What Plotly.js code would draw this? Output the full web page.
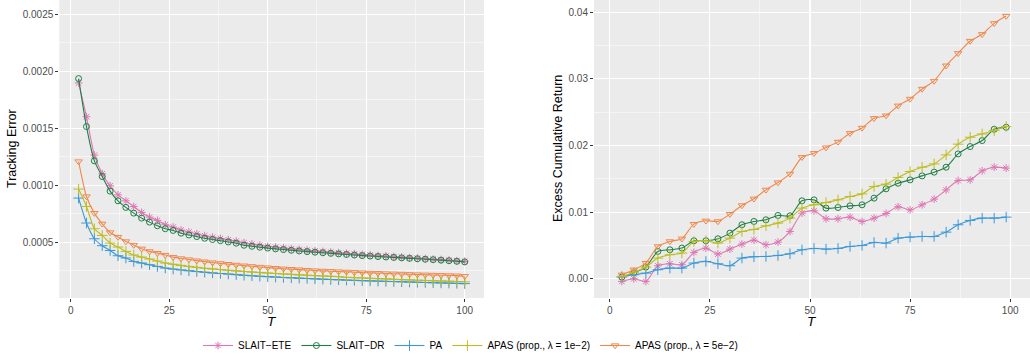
<!DOCTYPE html>
<html>
<head>
<meta charset="utf-8">
<script src="https://cdn.plot.ly/plotly-3.0.1.min.js"></script>
<style>
  html, body { margin: 0; padding: 0; background: #ffffff; }
  #chart { width: 1030px; height: 360px; }
</style>
</head>
<body>
<div id="chart"></div>
<script>
// ---------- Data ----------
const seriesNames = [
  "SLAIT\u2212ETE",
  "SLAIT\u2212DR",
  "PA",
  "APAS (prop., \u03bb = 1e\u22122)",
  "APAS (prop., \u03bb = 5e\u22122)"
];

// Left panel: Tracking Error vs T
const tLeft = [2,4,6,8,10,12,14,16,18,20,22,24,26,28,30,32,34,36,38,40,42,44,46,48,50,
               52,54,56,58,60,62,64,66,68,70,72,74,76,78,80,82,84,86,88,90,92,94,96,98,100];

const teSlaitEte = [0.001897,0.0016,0.001263,0.0011,0.000994,0.000915,0.000862,0.000812,0.00076,0.000719,
                    0.00069,0.000652,0.000632,0.000606,0.000588,0.000572,0.000556,0.000543,0.000531,0.00052,
                    0.000508,0.000494,0.000483,0.000473,0.000463,0.000455,0.000448,0.000441,0.000435,0.000429,
                    0.000423,0.000417,0.000412,0.000406,0.000401,0.000396,0.000391,0.000386,0.000381,0.000377,
                    0.000372,0.000368,0.000363,0.000359,0.000355,0.00035,0.000346,0.000341,0.000336,0.000331];

const teSlaitDr = [0.001935,0.001514,0.001213,0.001075,0.000947,0.000862,0.000804,0.000754,0.00071,0.000675,
                   0.000643,0.000617,0.000602,0.000578,0.000562,0.000548,0.000533,0.000522,0.000512,0.000501,
                   0.00049,0.000472,0.000463,0.000455,0.000447,0.00044,0.000434,0.000428,0.000422,0.000416,
                   0.000411,0.000406,0.000401,0.000396,0.000391,0.000386,0.000381,0.000377,0.000373,0.000369,
                   0.000365,0.000361,0.000357,0.000353,0.000349,0.000345,0.000341,0.000336,0.000331,0.000326];

const tePa = [0.000886,0.000667,0.000529,0.000468,0.000426,0.00038,0.00036,0.00033,0.000316,0.000301,
              0.000286,0.000272,0.000263,0.000255,0.000248,0.000241,0.000235,0.000229,0.000224,0.000219,
              0.000214,0.000208,0.000204,0.0002,0.000196,0.000193,0.000189,0.000186,0.000183,0.00018,
              0.000177,0.000174,0.000171,0.000169,0.000166,0.000164,0.000161,0.000159,0.000157,0.000155,
              0.000153,0.000151,0.000149,0.000147,0.000145,0.000143,0.000141,0.000139,0.000137,0.000135];

const teApas1 = [0.000965,0.000812,0.000617,0.000558,0.000491,0.000456,0.000418,0.000386,0.000368,0.000351,
                 0.000333,0.000316,0.000305,0.000295,0.000286,0.000278,0.00027,0.000264,0.000258,0.000252,
                 0.000247,0.000242,0.000237,0.000232,0.000228,0.000224,0.00022,0.000216,0.000212,0.000209,
                 0.000205,0.000202,0.000199,0.000196,0.000191,0.000188,0.000185,0.000182,0.000179,0.000176,
                 0.000173,0.00017,0.000168,0.000165,0.000163,0.00016,0.000158,0.000156,0.000153,0.000151];

const teApas5 = [0.001207,0.0009,0.000754,0.00066,0.000584,0.000544,0.000505,0.000474,0.000441,0.000418,
                 0.000403,0.000386,0.000368,0.000356,0.000347,0.000337,0.000328,0.00032,0.000313,0.000306,
                 0.000299,0.000293,0.000287,0.000281,0.000276,0.000271,0.000266,0.000262,0.000258,0.000254,
                 0.00025,0.000247,0.000244,0.000241,0.000238,0.000235,0.000232,0.000229,0.000227,0.000224,
                 0.000222,0.00022,0.000217,0.000215,0.000213,0.000211,0.000209,0.000207,0.000205,0.0002];

// Right panel: Excess Cumulative Return vs T
const tRight = [3,6,9,12,15,18,21,24,27,30,33,36,39,42,45,48,51,54,57,60,63,66,69,72,75,78,81,84,87,90,93,96,99];

const crSlaitEte = [-0.0004,0.0,-0.0004,0.00195,0.00225,0.0021,0.00395,0.0046,0.0037,0.00445,
                    0.0052,0.0058,0.0051,0.0055,0.0071,0.00985,0.0102,0.009,0.009,0.00925,
                    0.0086,0.0091,0.0098,0.0108,0.01034,0.0111,0.01195,0.01334,0.01474,0.01484,
                    0.01619,0.01674,0.0166];

const crSlaitDr = [0.00025,0.0009,0.00175,0.0041,0.00435,0.0046,0.0057,0.0057,0.006,0.00685,
                   0.0081,0.0086,0.00885,0.0095,0.00945,0.0117,0.01184,0.0106,0.0107,0.01094,
                   0.0111,0.0121,0.0135,0.01434,0.01484,0.01544,0.016,0.01674,0.01874,0.01984,
                   0.02074,0.02244,0.02274];

const crPa = [0.00025,0.0006,0.00085,0.00135,0.0016,0.0016,0.00235,0.0026,0.00225,0.00195,
              0.0031,0.0033,0.00335,0.0035,0.00375,0.00435,0.00455,0.00445,0.00455,0.00485,
              0.005,0.00545,0.00535,0.0061,0.00625,0.00635,0.00635,0.007,0.0081,0.00875,
              0.0091,0.0091,0.00925];

const crApas1 = [0.00035,0.00095,0.00175,0.0031,0.0036,0.00385,0.0056,0.0057,0.00535,0.0061,
                 0.0071,0.0074,0.00795,0.00835,0.0091,0.0106,0.0111,0.01144,0.01184,0.01234,
                 0.01274,0.01384,0.0142,0.0152,0.0161,0.01674,0.01724,0.01859,0.0202,0.02124,
                 0.02174,0.02224,0.02284];

const crApas5 = [0.0006,0.00135,0.00235,0.00485,0.0056,0.006,0.0082,0.0087,0.0086,0.0097,
                 0.011,0.012,0.01334,0.01444,0.01574,0.01824,0.01884,0.01969,0.02054,0.02184,
                 0.02264,0.02409,0.02449,0.02597,0.02699,0.02849,0.02969,0.03198,0.03384,0.03568,
                 0.03669,0.03834,0.03943];

// ---------- Styles ----------
const colors  = ["#DE77B4", "#1E7F46", "#3B98D8", "#BDBD22", "#F0884B"];
const symbols = ["asterisk-open", "circle-open", "cross-thin-open", "cross-thin-open", "triangle-down-open"];
const msizes  = [6.5, 6, 7.5, 7.5, 6.5];

const leftY  = [teSlaitEte, teSlaitDr, tePa, teApas1, teApas5];
const rightY = [crSlaitEte, crSlaitDr, crPa, crApas1, crApas5];

const traces = [];
for (let i = 0; i < seriesNames.length; i++) {
  traces.push({
    type: "scatter", mode: "lines+markers",
    x: tLeft, y: leftY[i], xaxis: "x", yaxis: "y",
    name: seriesNames[i], showlegend: true,
    line: { color: colors[i], width: 1.1, shape: "spline", smoothing: 0.6 },
    marker: { symbol: symbols[i], size: msizes[i], color: colors[i],
              line: { color: colors[i], width: 1 } }
  });
}
for (let i = 0; i < seriesNames.length; i++) {
  traces.push({
    type: "scatter", mode: "lines+markers",
    x: tRight, y: rightY[i], xaxis: "x2", yaxis: "y2",
    name: seriesNames[i], showlegend: false,
    line: { color: colors[i], width: 1.1, shape: "spline", smoothing: 0.7 },
    marker: { symbol: symbols[i], size: msizes[i], color: colors[i],
              line: { color: colors[i], width: 1 } }
  });
}

const tickFont = { family: "Liberation Sans, Arial, sans-serif", size: 10, color: "#4D4D4D" };
const axisCommon = {
  showgrid: true, gridcolor: "#FFFFFF", gridwidth: 1.1,
  zeroline: false, showline: false,
  ticks: "outside", ticklen: 3, tickwidth: 1, tickcolor: "#333333",
  tickfont: tickFont, automargin: false, fixedrange: true
};

const layout = {
  width: 1030, height: 360,
  margin: { l: 0, r: 0, t: 0, b: 62, pad: 0 },
  paper_bgcolor: "#FFFFFF",
  plot_bgcolor: "#EBEBEB",
  font: { family: "Liberation Sans, Arial, sans-serif", color: "#000000" },
  showlegend: true,
  legend: {
    orientation: "h", x: 198 / 1030, xanchor: "left",
    y: (298 - 346) / 298, yanchor: "middle",
    font: { family: "Liberation Sans, Arial, sans-serif", size: 10, color: "#000000" },
    bgcolor: "rgba(0,0,0,0)", itemwidth: 30, traceorder: "normal", tracegroupgap: 0
  },
  xaxis: Object.assign({}, axisCommon, {
    domain: [59.3 / 1030, 484 / 1030], anchor: "y",
    range: [-2.9, 104.9], tickvals: [0, 25, 50, 75, 100],
    minor: { tickvals: [12.5, 37.5, 62.5, 87.5], showgrid: true, gridcolor: "#FFFFFF", gridwidth: 0.5, ticks: "" }
  }),
  yaxis: Object.assign({}, axisCommon, {
    domain: [0, 1], anchor: "x",
    range: [0.0000088, 0.002625], tickvals: [0.0005, 0.001, 0.0015, 0.002, 0.0025],
    tickformat: ".4f",
    minor: { tickvals: [0.00025, 0.00075, 0.00125, 0.00175, 0.00225], showgrid: true, gridcolor: "#FFFFFF", gridwidth: 0.5, ticks: "" }
  }),
  xaxis2: Object.assign({}, axisCommon, {
    domain: [594 / 1030, 1], anchor: "y2",
    range: [-3.95, 104.95], tickvals: [0, 25, 50, 75, 100],
    minor: { tickvals: [12.5, 37.5, 62.5, 87.5], showgrid: true, gridcolor: "#FFFFFF", gridwidth: 0.5, ticks: "" }
  }),
  yaxis2: Object.assign({}, axisCommon, {
    domain: [0, 1], anchor: "x2",
    range: [-0.00289, 0.04184], tickvals: [0, 0.01, 0.02, 0.03, 0.04],
    tickformat: ".2f",
    minor: { tickvals: [0.005, 0.015, 0.025, 0.035], showgrid: true, gridcolor: "#FFFFFF", gridwidth: 0.5, ticks: "" }
  }),
  annotations: [
    { text: "Tracking Error", xref: "paper", yref: "paper", x: 12 / 1030, y: 0.5,
      textangle: -90, showarrow: false, xanchor: "center", yanchor: "middle",
      font: { size: 12.5, color: "#000000" } },
    { text: "Excess Cumulative Return", xref: "paper", yref: "paper", x: 558 / 1030, y: 0.5,
      textangle: -90, showarrow: false, xanchor: "center", yanchor: "middle",
      font: { size: 12.5, color: "#000000" } },
    { text: "<i>T</i>", xref: "paper", yref: "paper", x: 272 / 1030, y: (298 - 322) / 298,
      showarrow: false, xanchor: "center", yanchor: "middle",
      font: { size: 13.5, color: "#000000" } },
    { text: "<i>T</i>", xref: "paper", yref: "paper", x: 812 / 1030, y: (298 - 322) / 298,
      showarrow: false, xanchor: "center", yanchor: "middle",
      font: { size: 13.5, color: "#000000" } }
  ]
};

Plotly.newPlot("chart", traces, layout, { staticPlot: true, displayModeBar: false });
</script>
</body>
</html>
